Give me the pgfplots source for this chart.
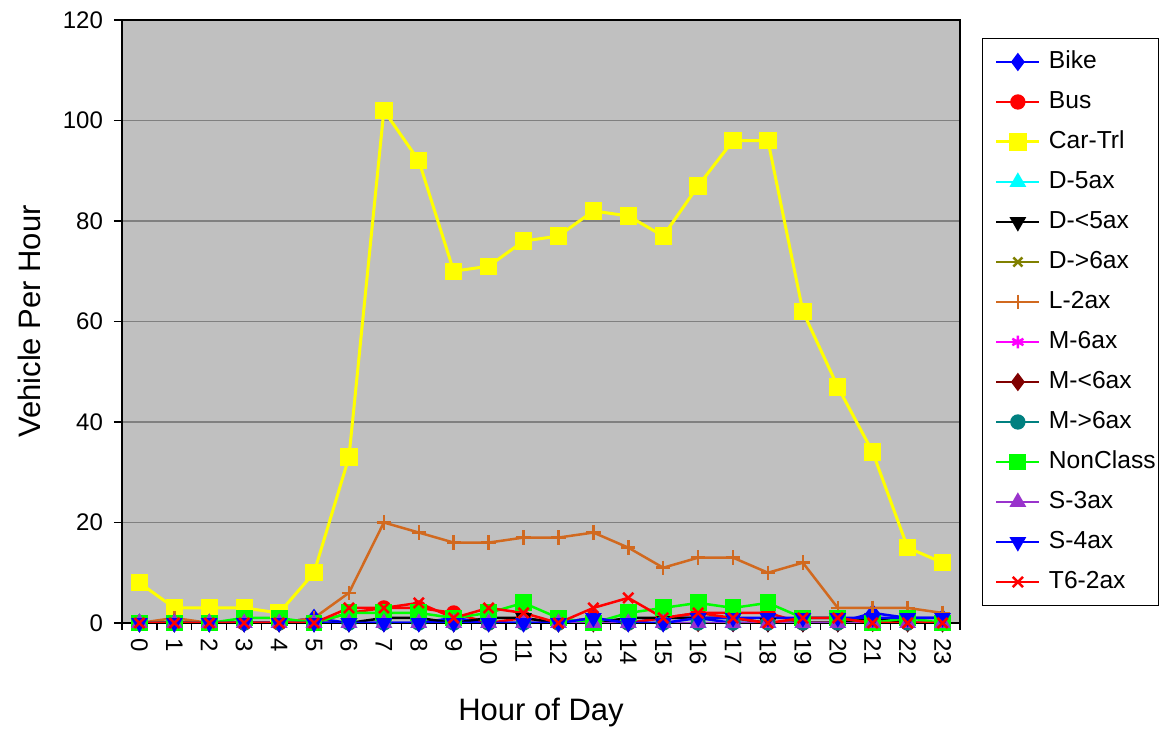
\documentclass[border=0pt]{standalone}
\usepackage{pgfplots}
\pgfplotsset{compat=1.18}
\usepackage{pgfplotstable}
\usepackage{fontspec}
\setmainfont{Liberation Sans}
\usetikzlibrary{plotmarks}
\definecolor{bggray}{RGB}{192,192,192}
\definecolor{gridgray}{RGB}{128,128,128}
\definecolor{lorange}{RGB}{209,105,31}
\definecolor{olivec}{RGB}{128,128,0}
\definecolor{darkredc}{RGB}{128,0,0}
\definecolor{tealc}{RGB}{0,128,128}
\definecolor{purplec}{RGB}{153,51,204}
\definecolor{limec}{RGB}{0,255,0}
\definecolor{yellowc}{RGB}{255,255,0}
\definecolor{cyanc}{RGB}{0,255,255}
\definecolor{magentac}{RGB}{255,0,255}

\pgfplotstableread{
h Bike Bus Car D5 Dlt5 Dgt6 L2 M6 Mlt6 Mgt6 Non S3 S4 T6
0  0 0   8 0 0 0  0 0 0 0 0 0 0 0
1  0 0   3 0 0 0  1 0 0 0 0 0 0 0
2  0 0   3 0 0 0  0 0 0 0 0 0 0 0
3  0 0   3 0 0 0  0 0 0 0 1 0 0 0
4  0 0   2 0 0 0  0 0 0 0 1 0 0 0
5  1 0  10 0 0 0  1 0 0 0 0 0 0 0
6  0 2  33 0 0 0  6 0 0 0 2 0 0 3
7  0 3 102 0 1 0 20 0 0 0 2 0 0 3
8  0 3  92 0 1 0 18 0 0 0 2 0 0 4
9  1 2  70 0 0 0 16 0 0 0 1 0 0 1
10 0 0  71 0 1 0 16 0 0 0 2 0 0 3
11 0 1  76 0 1 0 17 0 0 0 4 0 0 2
12 0 0  77 0 0 0 17 0 0 0 1 0 0 0
13 1 1  82 0 0 0 18 0 0 0 0 0 1 3
14 0 0  81 0 1 0 15 0 0 0 2 0 0 5
15 1 1  77 0 1 0 11 0 0 0 3 0 0 1
16 1 2  87 0 1 0 13 0 0 0 4 0 1 2
17 0 2  96 0 1 0 13 0 0 0 3 0 1 1
18 0 2  96 0 0 0 10 0 0 0 4 0 1 0
19 0 0  62 0 0 0 12 0 0 0 1 0 1 1
20 0 0  47 0 0 0  3 0 0 0 1 0 1 1
21 2 0  34 0 1 0  3 0 0 0 0 0 1 0
22 1 0  15 0 0 0  3 0 0 0 1 0 1 0
23 1 0  12 0 0 0  2 0 0 0 0 0 1 0
}\datatable

\begin{document}
\begin{tikzpicture}
\begin{axis}[
  scale only axis, width=419pt, height=301.5pt,
  xmin=-0.5, xmax=23.5, ymin=0, ymax=120,
  ytick={0,20,...,120},
  xtick={0,...,23},
  minor xtick={-0.5,0.5,...,23.5},
  major x tick style={draw=none},
  minor x tick style={black, line width=0.6pt},
  major y tick style={black, line width=0.6pt},
  tick align=outside, tick pos=left,
  major tick length=4pt, minor tick length=3.5pt,
  ymajorgrids=true,
  y grid style={color=gridgray, line width=0.75pt},
  axis background/.style={fill=bggray},
  axis line style={black, line width=0.7pt},
  /pgf/number format/assume math mode=true,
  ticklabel style={font=\fontsize{12}{14}\selectfont},
  xticklabel style={rotate=-90, anchor=west},
  yticklabel style={xshift=-2pt},
  xlabel={Hour of Day}, ylabel={Vehicle Per Hour},
  every axis y label/.style={at={(axis description cs:-0.11,0.5)}, anchor=center, rotate=90, font=\fontsize{15.5}{18}\selectfont},
  every axis x label/.style={at={(axis description cs:0.5,-0.149)}, anchor=center, font=\fontsize{15.5}{18}\selectfont},
  legend style={at={(1.2375,0.970)}, anchor=north east, draw=black, fill=white,
    font=\fontsize{12.3}{14}\selectfont, row sep=6.5pt, inner xsep=0.5pt, inner ysep=5pt,
    nodes={inner sep=1pt, text height=9pt, text depth=2.5pt},
    /tikz/every odd column/.append style={column sep=3pt}},
  legend cell align=left,
  legend image code/.code={\path (0cm,0cm); \draw[mark repeat=2,mark phase=2] plot coordinates {(0.2cm,0cm) (0.58cm,0cm) (0.96cm,0cm)};},
  every axis plot/.append style={line width=1.25pt, mark options={solid}},
]
\addplot[color=blue, mark=diamond*, mark size=3.6pt] table[x=h,y=Bike]{\datatable};
\addlegendentry{Bike}
\addplot[color=red, mark=*, mark size=3.2pt] table[x=h,y=Bus]{\datatable};
\addlegendentry{Bus}
\addplot[color=yellowc, mark=square*, mark size=3.6pt, line width=1.5pt] table[x=h,y=Car]{\datatable};
\addlegendentry{Car-Trl}
\addplot[color=cyanc, mark=triangle*, mark size=3.6pt] table[x=h,y=D5]{\datatable};
\addlegendentry{D-5ax}
\addplot[color=black, mark=triangle*, mark options={rotate=180}, mark size=3.6pt] table[x=h,y=Dlt5]{\datatable};
\addlegendentry{D-<5ax}
\addplot[color=olivec, mark=x, mark size=3.2pt] table[x=h,y=Dgt6]{\datatable};
\addlegendentry{D->6ax}
\addplot[color=lorange, mark=+, mark size=3.6pt] table[x=h,y=L2]{\datatable};
\addlegendentry{L-2ax}
\addplot[color=magentac, mark=asterisk, mark size=3.2pt] table[x=h,y=M6]{\datatable};
\addlegendentry{M-6ax}
\addplot[color=darkredc, mark=diamond*, mark size=3.6pt] table[x=h,y=Mlt6]{\datatable};
\addlegendentry{M-<6ax}
\addplot[color=tealc, mark=*, mark size=3.2pt] table[x=h,y=Mgt6]{\datatable};
\addlegendentry{M->6ax}
\addplot[color=limec, mark=square*, mark size=3.6pt] table[x=h,y=Non]{\datatable};
\addlegendentry{NonClass}
\addplot[color=purplec, mark=triangle*, mark size=3.6pt] table[x=h,y=S3]{\datatable};
\addlegendentry{S-3ax}
\addplot[color=blue, mark=triangle*, mark options={rotate=180}, mark size=3.6pt] table[x=h,y=S4]{\datatable};
\addlegendentry{S-4ax}
\addplot[color=red, mark=x, mark size=3.6pt] table[x=h,y=T6]{\datatable};
\addlegendentry{T6-2ax}
\end{axis}
\pgfresetboundingbox
\path (-61pt,-54.5pt) rectangle (520pt,311.5pt);
\end{tikzpicture}
\end{document}
